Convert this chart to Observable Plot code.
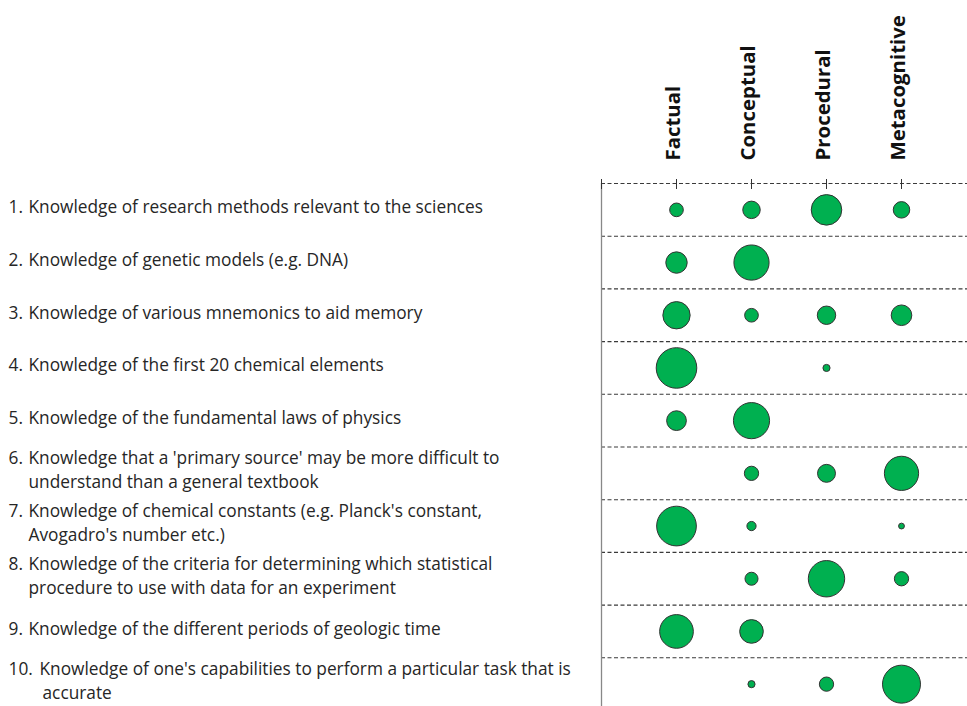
<!DOCTYPE html>
<html>
<head>
<meta charset="utf-8">
<script src="https://cdn.jsdelivr.net/npm/d3@7"></script>
<script src="https://cdn.jsdelivr.net/npm/@observablehq/plot@0.6"></script>
<style>
  html, body { margin: 0; padding: 0; background: #fff; }
  #chart svg { display: block; }
</style>
</head>
<body>
<div id="chart"></div>
<script>
// Knowledge dimensions (columns)
const dimensions = ["Factual", "Conceptual", "Procedural", "Metacognitive"];

// Item numbers and label lines (rows)
const itemNumbers = ["1.", "2.", "3.", "4.", "5.", "6.", "7.", "8.", "9.", "10."];
const itemLines = [
  ["Knowledge of research methods relevant to the sciences"],
  ["Knowledge of genetic models (e.g. DNA)"],
  ["Knowledge of various mnemonics to aid memory"],
  ["Knowledge of the first 20 chemical elements"],
  ["Knowledge of the fundamental laws of physics"],
  ["Knowledge that a 'primary source' may be more difficult to", "understand than a general textbook"],
  ["Knowledge of chemical constants (e.g. Planck's constant,", "Avogadro's number etc.)"],
  ["Knowledge of the criteria for determining which statistical", "procedure to use with data for an experiment"],
  ["Knowledge of the different periods of geologic time"],
  ["Knowledge of one's capabilities to perform a particular task that is", "accurate"]
];

// Share of responses (%) per item, per dimension (null = none)
const factual       = [11, 27, 44, 97, 23, null, 93, null, 67, null];
const conceptual    = [18, 73, 11, null, 77, 12, 5, 10, 33, 3];
const procedural    = [55, null, 20, 3, null, 19, null, 78, null, 12];
const metacognitive = [16, null, 25, null, null, 69, 2, 12, null, 85];

const series = [factual, conceptual, procedural, metacognitive];
const cells = [];
series.forEach((vals, j) => vals.forEach((v, i) => {
  if (v != null) cells.push({row: i + 1, col: j + 1, value: v});
}));

const lineStep = 0.455; // line spacing in row units
const labelLines = [];
itemLines.forEach((lines, i) => lines.forEach((t, k) => {
  const multi = lines.length > 1;
  labelLines.push({
    row: i + 1,
    pos: i + 1 + (k - (lines.length - 1) / 2) * lineStep - (multi ? 0.05 : 0.04),
    first: k === 0,
    num: itemNumbers[i],
    text: t,
    wide: itemNumbers[i].length > 2
  });
}));

const colTicks = [0, 1, 2, 3, 4];
const boundaries = d3.range(0.5, 10, 1);

const font = "'Open Sans', sans-serif";
const fs = 17.3;

const chart = Plot.plot({
  width: 967,
  height: 706,
  marginLeft: 601,
  marginRight: 0,
  marginTop: 183,
  marginBottom: 0,
  style: {fontFamily: font, background: "#fff", overflow: "visible"},
  x: {domain: [0, 4.88], axis: null},
  y: {domain: [0.5, 10.5], range: [183, 710], axis: null},
  r: {type: "sqrt", domain: [0, 100], range: [0, 20.6]},
  marks: [
    // row separators
    Plot.ruleY(boundaries, {stroke: "#3a3a3a", strokeWidth: 1.1, strokeDasharray: "4,2.5"}),
    // left vertical axis
    Plot.ruleX([0], {stroke: "#888", strokeWidth: 1.3}),
    // top ticks crossing the first dashed line
    Plot.axisX({anchor: "top", ticks: colTicks, tickSize: 10, dy: 5, tickFormat: () => "", label: null, stroke: "#333"}),
    // column headers
    Plot.text(dimensions, {
      x: (d, i) => i + 1, frameAnchor: "top", rotate: -90, textAnchor: "start",
      dy: -23, dx: -11, fontSize: 20.4, fontWeight: "bold", fill: "#111", text: d => d
    }),
    // bubbles
    Plot.dot(cells, {x: "col", y: "row", r: "value", fill: "#00B050", stroke: "#333", strokeWidth: 1}),
    // item numbers
    Plot.text(labelLines.filter(d => d.first), {
      y: "pos", frameAnchor: "left", textAnchor: "start", dx: -593,
      text: "num", fontSize: fs, fill: "#262626"
    }),
    // label text (single-digit items)
    Plot.text(labelLines.filter(d => !d.wide), {
      y: "pos", frameAnchor: "left", textAnchor: "start", dx: -573,
      text: "text", fontSize: fs, fill: "#262626"
    }),
    // label text (two-digit items)
    Plot.text(labelLines.filter(d => d.wide && d.first), {
      y: "pos", frameAnchor: "left", textAnchor: "start", dx: -562,
      text: "text", fontSize: fs, fill: "#262626"
    }),
    Plot.text(labelLines.filter(d => d.wide && !d.first), {
      y: "pos", frameAnchor: "left", textAnchor: "start", dx: -559,
      text: "text", fontSize: fs, fill: "#262626"
    })
  ]
});

document.getElementById("chart").appendChild(chart);
</script>
</body>
</html>
